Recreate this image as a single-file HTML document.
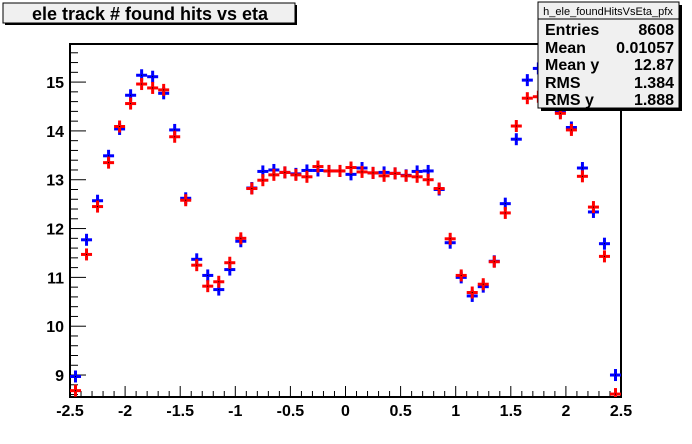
<!DOCTYPE html>
<html><head><meta charset="utf-8"><style>
body{margin:0;background:#fff;}
svg{display:block;font-family:"Liberation Sans",Arial,sans-serif;}
</style></head><body>
<svg id="chart" width="692" height="444" viewBox="0 0 692 444">
<rect x="0" y="0" width="692" height="444" fill="#fff"/>
<g id="axes"></g>
<g id="series-blue"></g>
<g id="series-red"></g>
<g>
<rect x="5" y="5" width="292" height="20" fill="#000"/>
<rect x="3" y="3" width="292" height="20" fill="#f0f0f0" stroke="#000" stroke-width="1"/>
<text x="150" y="20" text-anchor="middle" font-size="18" font-weight="bold">ele track # found hits vs eta</text>
</g>
<g>
<rect x="541" y="5" width="141" height="106" fill="#000"/>
<rect x="538" y="2" width="141" height="106" fill="#f0f0f0" stroke="#000" stroke-width="1"/>
<line x1="538" y1="19" x2="679" y2="19" stroke="#000"/>
<text x="608" y="15" text-anchor="middle" font-size="11">h_ele_foundHitsVsEta_pfx</text>
<g font-size="16" font-weight="bold">
<text x="545" y="35">Entries</text><text x="674" y="35" text-anchor="end">8608</text>
<text x="545" y="53">Mean</text><text x="674" y="53" text-anchor="end">0.01057</text>
<text x="545" y="70">Mean y</text><text x="674" y="70" text-anchor="end">12.87</text>
<text x="545" y="88">RMS</text><text x="674" y="88" text-anchor="end">1.384</text>
<text x="545" y="105">RMS y</text><text x="674" y="105" text-anchor="end">1.888</text>
</g>
</g>
</svg>
<script>
const etaBins = [-2.45,-2.35,-2.25,-2.15,-2.05,-1.95,-1.85,-1.75,-1.65,-1.55,-1.45,-1.35,-1.25,-1.15,-1.05,-0.95,-0.85,-0.75,-0.65,-0.55,-0.45,-0.35,-0.25,-0.15,-0.05,0.05,0.15,0.25,0.35,0.45,0.55,0.65,0.75,0.85,0.95,1.05,1.15,1.25,1.35,1.45,1.55,1.65,1.75,1.85,1.95,2.05,2.15,2.25,2.35,2.45];
const blueValues = [8.97,11.77,12.57,13.49,14.04,14.73,15.14,15.11,14.77,14.02,12.62,11.37,11.04,10.75,11.16,11.74,12.83,13.17,13.20,13.15,13.12,13.19,13.19,13.18,13.18,13.11,13.24,13.14,13.15,13.13,13.09,13.17,13.18,12.80,11.71,11.00,10.62,10.81,11.33,12.51,13.83,15.04,15.28,15.45,14.40,14.07,13.24,12.34,11.69,9.00];
const redValues = [8.68,11.47,12.45,13.35,14.09,14.56,14.96,14.88,14.84,13.88,12.58,11.25,10.82,10.91,11.30,11.80,12.82,12.99,13.10,13.15,13.10,13.06,13.27,13.18,13.18,13.25,13.16,13.14,13.08,13.13,13.08,13.06,13.00,12.82,11.79,11.04,10.69,10.86,11.32,12.32,14.10,14.67,14.70,14.63,14.36,14.02,13.07,12.44,11.43,8.61];
const xTickLabels = ["-2.5","-2","-1.5","-1","-0.5","0","0.5","1","1.5","2","2.5"];
const yTickLabels = ["9","10","11","12","13","14","15"];

const X0=70, X1=621, Y0=397, YT=44;
const xMin=-2.5, xMax=2.5, yMin=8.55, yMax=15.78;
function xs(v){return X0+(v-xMin)/(xMax-xMin)*(X1-X0);}
function ys(v){return Y0-(v-yMin)/(yMax-yMin)*(Y0-YT);}
const NS="http://www.w3.org/2000/svg";
function mk(tag,attrs,parent){const e=document.createElementNS(NS,tag);for(const k in attrs)e.setAttribute(k,attrs[k]);parent.appendChild(e);return e;}

const axes=document.getElementById('axes');
const frame=mk('rect',{x:X0,y:YT,width:X1-X0,height:Y0-YT,fill:'none',stroke:'#000','stroke-width':2},axes);


for(let i=0;i<=50;i++){
  const v=xMin+i*0.1; const x=xs(v); const major=(i%5===0);
  const t=mk('line',{x1:x,y1:Y0,x2:x,y2:Y0-(major?11:6),stroke:'#000','stroke-width':1},axes);
  
  
}
xTickLabels.forEach(s=>{
  const t=mk('text',{x:xs(parseFloat(s)),y:416,'text-anchor':'middle','font-size':16,'font-weight':'bold'},axes);
  t.textContent=s;
  
  
});
for(let v=8.6;v<=15.78;v+=0.2){
  const vv=Math.round(v*10)/10; const y=ys(vv); const major=Math.abs(vv-Math.round(vv))<1e-6;
  const t=mk('line',{x1:X0,y1:y,x2:X0+(major?16:8),y2:y,stroke:'#000','stroke-width':1},axes);
  
  
}
yTickLabels.forEach(s=>{
  const t=mk('text',{x:X0-6,y:ys(parseFloat(s))+6,'text-anchor':'end','font-size':16,'font-weight':'bold'},axes);
  t.textContent=s;
  
  
});
function drawSeries(gid,vals,color){
  const g=document.getElementById(gid);
  etaBins.forEach((b,i)=>{
    const cx=xs(b), cy=ys(vals[i]);
    if(cy>Y0+3||cy<YT-3)return;
    const m=mk('g',{},g);
    
    
    mk('line',{x1:xs(b-0.05),y1:cy,x2:xs(b+0.05),y2:cy,stroke:color,'stroke-width':3},m);
    mk('line',{x1:cx,y1:Math.max(YT,cy-6),x2:cx,y2:Math.min(Y0,cy+6),stroke:color,'stroke-width':3},m);
    mk('rect',{x:cx-0.5,y:cy-0.5,width:1,height:1,fill:'#000'},m);
  });
}
drawSeries('series-blue',blueValues,'#0000ff');
drawSeries('series-red',redValues,'#ff0000');
</script>
</body></html>
